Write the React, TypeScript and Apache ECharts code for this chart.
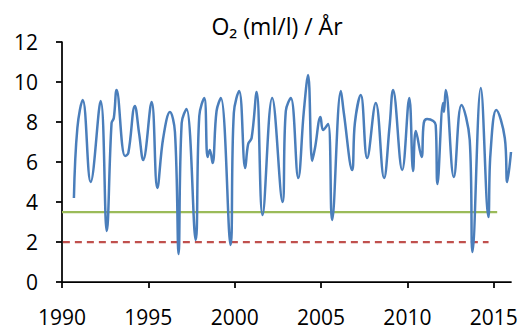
import React, { useEffect, useRef } from "react";
import * as echarts from "echarts";

const title = "O₂ (ml/l) / År";

const years = [
  1990.69, 1990.89, 1991.2, 1991.66, 1992.24, 1992.59, 1992.87, 1993.0, 1993.16, 1993.65,
  1993.84, 1994.22, 1994.47, 1994.7, 1995.19, 1995.52, 1995.86, 1996.25, 1996.54, 1996.75,
  1996.93, 1997.21, 1997.74, 1997.95, 1998.24, 1998.43, 1998.56, 1998.72, 1998.95, 1999.2,
  1999.76, 1999.95, 2000.26, 2000.61, 2000.78, 2000.98, 2001.27, 2001.61, 2002.17, 2002.77,
  2002.96, 2003.25, 2003.68, 2004.0, 2004.25, 2004.49, 2004.65, 2004.97, 2005.12, 2005.41,
  2005.64, 2006.15, 2006.32, 2006.8, 2006.96, 2007.3, 2007.67, 2008.17, 2008.65, 2008.97,
  2009.17, 2009.7, 2010.11, 2010.33, 2010.49, 2010.82, 2010.95, 2011.14, 2011.5, 2011.64,
  2011.74, 2012.07, 2012.12, 2012.22, 2012.69, 2013.13, 2013.61, 2013.77, 2014.25, 2014.69,
  2014.81, 2015.15, 2015.64, 2015.78, 2016.0,
];

const o2 = [
  4.2, 7.7, 9.1, 5.0, 9.05, 2.55, 7.95, 8.2, 9.6, 6.3,
  6.45, 8.8, 7.4, 6.1, 9.0, 4.7, 7.2, 8.5, 7.5, 1.4,
  7.95, 8.65, 2.1, 8.3, 9.2, 6.25, 6.6, 5.95, 8.55, 9.2,
  1.85, 8.45, 9.55, 5.7, 6.9, 7.2, 9.5, 3.35, 9.2, 4.0,
  8.55, 9.2, 5.2, 8.5, 10.35, 6.05, 6.7, 8.25, 7.6, 7.9,
  3.1, 9.55, 8.45, 5.6, 7.95, 9.35, 6.2, 8.95, 5.2, 7.8,
  9.6, 5.6, 9.2, 5.55, 7.55, 6.25, 7.95, 8.15, 8.05, 7.85,
  4.9, 8.95, 8.5, 9.6, 5.25, 8.85, 7.1, 1.5, 9.7, 3.25,
  6.4, 8.6, 7.2, 5.0, 6.5,
];

const greenX = [1990, 2015.2];
const greenY = [3.5, 3.5];
const redX = [1990.05, 2014.7];
const redY = [2, 2];

const xTicks = [1990, 1995, 2000, 2005, 2010, 2015];
const yTicks = [0, 2, 4, 6, 8, 10, 12];

const FONT = "'Open Sans', sans-serif";

export default function App() {
  const ref = useRef<HTMLDivElement>(null);
  useEffect(() => {
    if (!ref.current) return;
    const chart = echarts.init(ref.current, null, { renderer: "svg" });
    chart.setOption({
      animation: false,
      backgroundColor: "#ffffff",
      grid: { left: 62, right: 13, top: 42, bottom: 47, containLabel: false, outerBoundsMode: "none" },
      graphic: [
        {
          type: "text",
          x: 277,
          y: 26,
          style: {
            text: title,
            fontFamily: FONT,
            fontSize: 23,
            fill: "#000",
            textAlign: "center",
            textVerticalAlign: "middle",
          },
        },
      ],
      xAxis: {
        type: "value",
        min: xTicks[0],
        max: 2016,
        interval: 5,
        splitLine: { show: false },
        axisLine: { show: true, onZero: false, lineStyle: { color: "#000", width: 1.75 } },
        axisTick: { show: true, length: 6, lineStyle: { color: "#000", width: 1.75 } },
        axisLabel: {
          color: "#000",
          fontFamily: FONT,
          fontSize: 21,
          margin: 24,
          showMaxLabel: false,
          formatter: (v: number) => (xTicks.includes(v) ? String(v) : ""),
        },
      },
      yAxis: {
        type: "value",
        min: yTicks[0],
        max: yTicks[yTicks.length - 1],
        interval: 2,
        splitLine: { show: false },
        axisLine: { show: true, lineStyle: { color: "#000", width: 1.75 } },
        axisTick: { show: true, length: 6, lineStyle: { color: "#000", width: 1.75 } },
        axisLabel: { color: "#000", fontFamily: FONT, fontSize: 21, margin: 24 },
      },
      series: [
        {
          type: "line",
          data: greenX.map((x, i) => [x, greenY[i]]),
          showSymbol: false,
          lineStyle: { color: "#9BBB59", width: 2.25 },
          z: 2,
        },
        {
          type: "line",
          data: redX.map((x, i) => [x, redY[i]]),
          showSymbol: false,
          lineStyle: { color: "#C0504D", width: 2.25, type: [7, 5] },
          z: 2,
        },
        {
          type: "line",
          data: years.map((x, i) => [x, o2[i]]),
          showSymbol: false,
          smooth: 0.4,
          lineStyle: { color: "#4A7EBB", width: 2.5 },
          z: 3,
        },
      ],
    });
    return () => chart.dispose();
  }, []);
  return (
    <div
      ref={ref}
      style={{ position: "fixed", left: 0, top: 0, width: 524, height: 329 }}
    />
  );
}
